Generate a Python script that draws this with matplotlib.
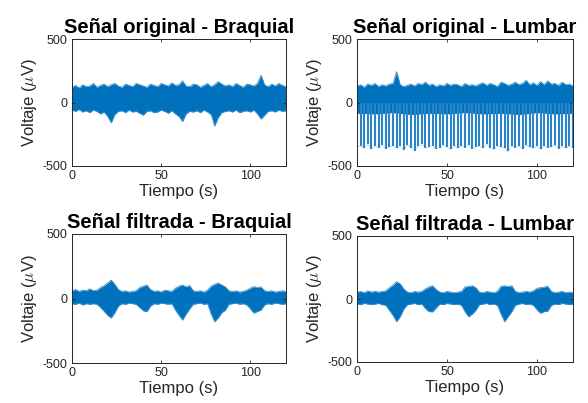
import numpy as np
import matplotlib
matplotlib.use("Agg")
import matplotlib.pyplot as plt

plt.rcParams['font.family'] = ['Liberation Sans', 'DejaVu Sans']
plt.rcParams['mathtext.fontset'] = 'cm'
plt.rcParams['axes.unicode_minus'] = False

titles = ["Señal original - Braquial", "Señal original - Lumbar",
          "Señal filtrada - Braquial", "Señal filtrada - Lumbar"]
x_ticks = [0, 50, 100]
y_ticks = [-500, 0, 500]

orig_braq_upper = [120, 135, 115, 140, 125, 130, 150, 120, 135, 145, 125, 140, 150, 130, 120, 145,
                   135, 125, 150, 140, 130, 120, 145, 135, 125, 150, 140, 130, 155, 135, 140, 170,
                   130, 125, 145, 140, 120, 135, 150, 125, 140, 165, 145, 130, 140, 125, 150, 135,
                   120, 145, 140, 130, 150, 215, 140, 125, 145, 130, 150, 135, 125]
orig_braq_lower = [-60, -70, -55, -75, -65, -80, -60, -70, -90, -75, -110, -160, -95, -70, -65, -80,
                   -60, -75, -70, -85, -100, -70, -65, -80, -75, -60, -70, -85, -65, -90, -110, -150,
                   -90, -70, -75, -65, -80, -60, -75, -95, -185, -120, -80, -70, -65, -75, -60, -80,
                   -70, -65, -75, -60, -90, -130, -100, -70, -65, -75, -60, -70, -65]

orig_lumb_upper = [130, 140, 120, 145, 135, 150, 125, 140, 130, 145, 150, 243, 140, 125, 135, 145,
                   130, 150, 140, 160, 135, 145, 125, 140, 130, 150, 135, 145, 140, 125, 150, 135,
                   140, 130, 145, 155, 135, 150, 140, 125, 160, 150, 135, 145, 160, 140, 150, 175,
                   140, 155, 135, 165, 140, 170, 145, 150, 135, 160, 140, 145, 130]
orig_lumb_core_lower = [-85, -90, -80, -95, -85, -90, -80, -90, -85, -95, -80, -90, -85]
orig_lumb_lower = [-350, -340, -360, -330, -370, -345, -355, -335, -365, -350, -340, -360, -345,
                   -375, -335, -355, -380, -345, -330, -360, -350, -340, -365, -355, -335, -350,
                   -370, -345, -360, -340, -355, -335, -365, -350, -345, -360, -330, -355, -370,
                   -345, -350, -360, -385, -340, -355, -345, -365, -335, -350, -360, -345, -370,
                   -340, -355, -350, -335, -365, -345, -360, -340, -355]

filt_braq_upper = [60, 70, 55, 65, 60, 75, 60, 65, 85, 100, 120, 143, 110, 70, 55, 60, 50, 55, 60,
                   85, 95, 105, 70, 55, 60, 50, 65, 60, 55, 80, 95, 105, 90, 100, 60, 55, 60, 50, 65,
                   95, 110, 120, 105, 90, 60, 55, 60, 50, 55, 65, 80, 92, 85, 90, 60, 55, 60, 50, 55,
                   60, 55]
filt_braq_lower = [-40, -45, -35, -50, -40, -45, -40, -45, -70, -100, -130, -151, -110, -60, -40,
                   -45, -35, -40, -45, -70, -95, -102, -60, -40, -45, -35, -40, -45, -40, -90, -130,
                   -167, -120, -80, -45, -40, -35, -45, -40, -120, -180, -150, -110, -90, -45, -40,
                   -35, -45, -40, -50, -80, -113, -100, -90, -50, -40, -45, -35, -40, -45, -40]

filt_lumb_upper = [55, 60, 50, 65, 55, 60, 55, 60, 65, 90, 110, 138, 120, 80, 55, 50, 60, 55, 60,
                   80, 95, 105, 75, 55, 50, 60, 55, 50, 55, 60, 95, 100, 105, 90, 55, 50, 60, 55, 50,
                   60, 100, 105, 100, 105, 60, 50, 55, 60, 55, 65, 85, 90, 95, 100, 60, 50, 55, 60,
                   50, 55, 50]
filt_lumb_lower = [-40, -45, -35, -40, -45, -40, -35, -45, -50, -90, -130, -180, -140, -80, -45,
                   -40, -35, -45, -40, -75, -100, -102, -70, -40, -45, -35, -40, -45, -40, -50, -100,
                   -141, -120, -90, -45, -40, -35, -45, -40, -50, -120, -180, -140, -100, -50, -40,
                   -35, -45, -40, -50, -85, -113, -100, -95, -50, -40, -45, -35, -40, -45, -40]

T_END = 120
BLUE = '#0072BD'
EDGE = '#3a8fd0'
FRAME = '#262626'

fig = plt.figure(figsize=(5.88, 4.03), dpi=100)
positions = [
    [72/588, 1-166/403, 214/588, 127/403],
    [357/588, 1-166/403, 216/588, 127/403],
    [72/588, 1-363/403, 214/588, 129/403],
    [357/588, 1-362/403, 216/588, 126/403],
]
axes = [fig.add_axes(p) for p in positions]


def t_of(arr):
    return np.linspace(0, T_END, len(arr))


def draw_band(ax, up, lo):
    ax.fill_between(t_of(up), lo, up, color=BLUE, lw=0)
    ax.plot(t_of(up), up, color=EDGE, lw=0.6)
    ax.plot(t_of(lo), lo, color=EDGE, lw=0.6)


draw_band(axes[0], orig_braq_upper, orig_braq_lower)

# lumbar original: dense core plus striped deflections
ax = axes[1]
ax.vlines(t_of(orig_lumb_lower), orig_lumb_lower, 0, color='#2a85c8', lw=1.5)
core_lo = np.interp(t_of(orig_lumb_upper), t_of(orig_lumb_core_lower), orig_lumb_core_lower)
ax.fill_between(t_of(orig_lumb_upper), core_lo, orig_lumb_upper, color=BLUE, lw=0)
ax.plot(t_of(orig_lumb_upper), orig_lumb_upper, color=EDGE, lw=0.6)
ax.plot(t_of(orig_lumb_lower), orig_lumb_lower, color=EDGE, lw=0.4, alpha=0.5)

draw_band(axes[2], filt_braq_upper, filt_braq_lower)
draw_band(axes[3], filt_lumb_upper, filt_lumb_lower)

for ax, title in zip(axes, titles):
    ax.set_xlim(0, T_END)
    ax.set_ylim(-500, 500)
    ax.set_xticks(x_ticks)
    ax.set_yticks(y_ticks)
    ax.tick_params(direction='in', length=2.5, width=0.6, labelsize=9,
                   colors=FRAME, top=True, right=True, pad=3)
    for s in ax.spines.values():
        s.set_color(FRAME)
        s.set_linewidth(0.7)
    ax.set_title(title, fontsize=14.5, fontweight='bold', pad=4, color='black')
    ax.set_xlabel('Tiempo (s)', fontsize=12, labelpad=1, color=FRAME)
    ax.set_ylabel(r'Voltaje ($\mu$V)', fontsize=12, labelpad=3, color=FRAME)

fig.savefig('out.png', dpi=100)
